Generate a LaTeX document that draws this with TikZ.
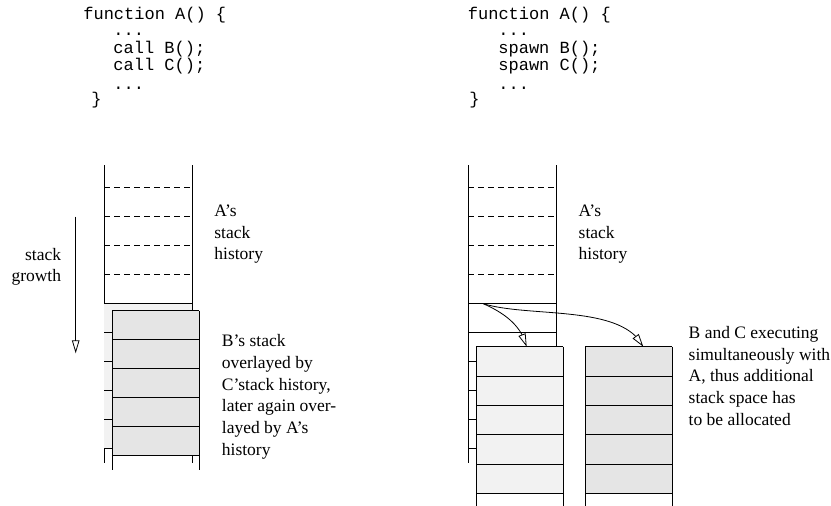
\documentclass[tikz,border=0pt]{standalone}
\usepackage{fontspec}
\setmainfont{Liberation Serif}
\setmonofont{Liberation Mono}
\usetikzlibrary{arrows.meta,bending}
\definecolor{framelight}{gray}{0.95}
\definecolor{framedark}{gray}{0.90}

\begin{document}
\begin{tikzpicture}[x=1pt,y=-1pt,line width=0.8pt,
  lbl/.style={anchor=base west,inner sep=0pt,font=\fontsize{17.5}{21}\selectfont},
  lblr/.style={anchor=base east,inner sep=0pt,font=\fontsize{17.5}{21}\selectfont},
  code/.style={anchor=base west,inner sep=0pt,font=\ttfamily\fontsize{17}{17}\selectfont},
  hist/.style={dash pattern=on 6pt off 4pt},
  opentip/.style={-{Triangle[open,length=13pt,width=7.5pt]}},
]
\useasboundingbox (0,0) rectangle (831,506);

% ---------- source code: sequential calls ----------
\node[code] (l1) at (83,19.5)  {function A() \{};
\node[code] (l2) at (113,35)   {...};
\node[code] (l3) at (113,53)   {call B();};
\node[code] (l4) at (113,70.5) {call C();};
\node[code] (l5) at (113,89)   {...};
\node[code] (l6) at (91,104)   {\}};

% ---------- source code: spawned calls ----------
\node[code] (r1) at (467.5,19.5) {function A() \{};
\node[code] (r2) at (498,35)     {...};
\node[code] (r3) at (498,53)     {spawn B();};
\node[code] (r4) at (498,70.5)   {spawn C();};
\node[code] (r5) at (498,89)     {...};
\node[code] (r6) at (469,104)    {\}};

% ---------- left: single stack ----------
% A's frames, history part dashed
\draw (104.3,165) -- (104.3,463);
\draw (192.3,165) -- (192.3,463);
\foreach \y in {187.7,216.7,245.7,274.7}
  \draw[hist] (104.3,\y) -- (192.3,\y);
\fill[framelight] (104.3,303.7) rectangle (192.3,448.7);
\foreach \k in {0,...,5}
  \draw (104.3,303.7+29*\k) -- (192.3,303.7+29*\k);
% B / C frames laid over A's
\fill[framedark] (112.3,310.7) rectangle (199.3,455.7);
\draw (112.3,310.7) -- (112.3,470);
\draw (199.3,310.7) -- (199.3,470);
\foreach \k in {0,...,5}
  \draw (112.3,310.7+29*\k) -- (199.3,310.7+29*\k);

% stack growth arrow
\coordinate (g1) at (75.7,216.7);
\coordinate (g2) at (75.7,353.3);
\draw[opentip] (g1) -- (g2);
\node[lblr] (sg1) at (61.5,260)   {stack};
\node[lblr] (sg2) at (61.5,281.7) {growth};

\node[lbl] (la1) at (214,216.5) {A’s};
\node[lbl] (la2) at (214,238.2) {stack};
\node[lbl] (la3) at (214,259.9) {history};

\node[lbl] (lb1) at (221.5,346.7) {B’s stack};
\node[lbl] (lb2) at (221.5,368.4) {overlayed by};
\node[lbl] (lb3) at (221.5,390.1) {C’stack history,};
\node[lbl] (lb4) at (221.5,411.8) {later again over-};
\node[lbl] (lb5) at (221.5,433.5) {layed by A’s};
\node[lbl] (lb6) at (221.5,455.2) {history};

% ---------- right: cactus stack ----------
\draw (468.3,165) -- (468.3,463.3);
\draw (556,165) -- (556,346.7);
\foreach \y in {187.7,216.7,245.7,274.7}
  \draw[hist] (468.3,\y) -- (556,\y);
\foreach \k in {0,...,5}
  \draw (468.3,303.7+29*\k) -- (556,303.7+29*\k);

% B's stack
\fill[framelight] (476,346.7) rectangle (563.3,493.2);
\draw (476,346.7) -- (476,506);
\draw (563.3,346.7) -- (563.3,506);
\foreach \k in {0,...,5}
  \draw (476,346.7+29.3*\k) -- (563.3,346.7+29.3*\k);
% C's stack
\fill[framedark] (585,346.7) rectangle (672.3,493.2);
\draw (585,346.7) -- (585,506);
\draw (672.3,346.7) -- (672.3,506);
\foreach \k in {0,...,5}
  \draw (585,346.7+29.3*\k) -- (672.3,346.7+29.3*\k);

% spawn arrows
\coordinate (sp) at (483.3,303.7);
\coordinate (bt) at (526.7,346.7);
\coordinate (ct) at (643.3,346.7);
\draw[opentip] (sp) .. controls (502,312) and (521,324) .. (bt);
\draw[opentip] (sp) .. controls (530,318) and (622,304) .. (ct);

\node[lbl] (ra1) at (578.3,216.5) {A’s};
\node[lbl] (ra2) at (578.3,238.2) {stack};
\node[lbl] (ra3) at (578.3,259.9) {history};

\node[lbl] (rb1) at (688.3,338.3) {B and C executing};
\node[lbl] (rb2) at (688.3,360)   {simultaneously with};
\node[lbl] (rb3) at (688.3,381.7) {A, thus additional};
\node[lbl] (rb4) at (688.3,403.4) {stack space has};
\node[lbl] (rb5) at (688.3,425.1) {to be allocated};
\end{tikzpicture}
\end{document}
